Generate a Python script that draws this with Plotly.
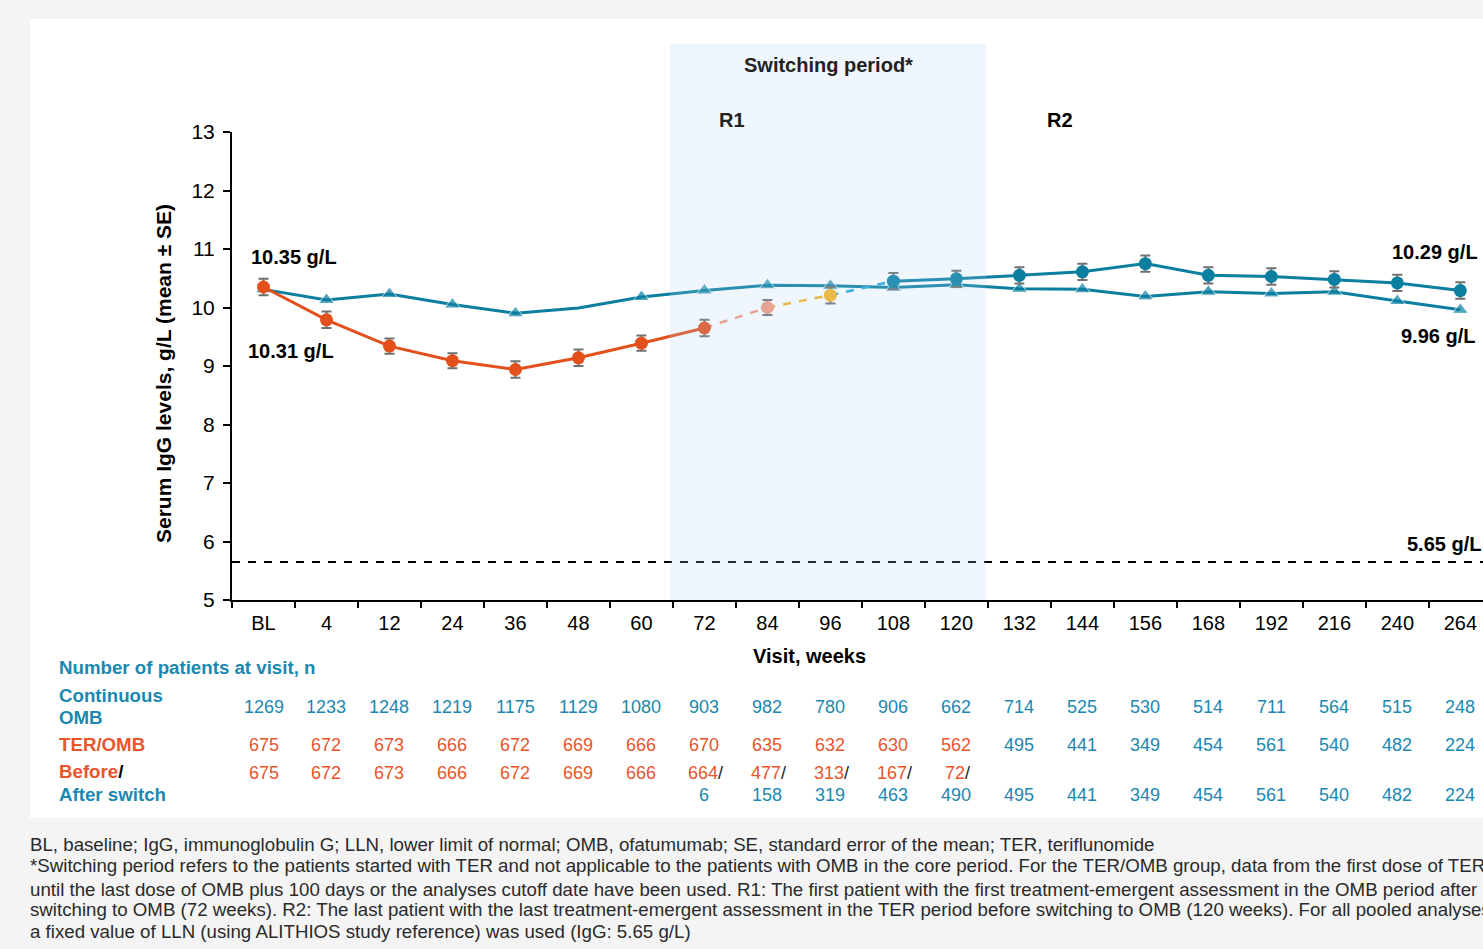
import plotly.graph_objects as go

# ---- data -----------------------------------------------------------------
visits = ["BL", "4", "12", "24", "36", "48", "60", "72", "84", "96", "108", "120",
          "132", "144", "156", "168", "192", "216", "240", "264"]

# Continuous OMB, mean IgG (g/L)
omb_mean = [10.31, 10.13, 10.23, 10.05, 9.90, 9.99, 10.18, 10.29, 10.38, 10.37,
            10.34, 10.39, 10.32, 10.31, 10.19, 10.27, 10.24, 10.27, 10.11, 9.96]

# TER/OMB, before switch (TER period), index 0..7
ter_mean = [10.35, 9.79, 9.34, 9.09, 8.94, 9.14, 9.39, 9.65]
ter_se = [0.14, 0.14, 0.13, 0.13, 0.14, 0.14, 0.13, 0.14]

# TER/OMB during switching period, index 8..9
switch_mean = [10.00, 10.21]
switch_se = [0.13, 0.14]

# TER/OMB after switch (OMB period), index 10..19
after_mean = [10.45, 10.49, 10.55, 10.61, 10.75, 10.55, 10.53, 10.48, 10.42, 10.29]
after_se = [0.14, 0.14, 0.14, 0.14, 0.14, 0.14, 0.14, 0.14, 0.14, 0.14]

lln = 5.65

# Number of patients at visit
n_omb = [1269, 1233, 1248, 1219, 1175, 1129, 1080, 903, 982, 780, 906, 662,
         714, 525, 530, 514, 711, 564, 515, 248]
n_ter_omb = [675, 672, 673, 666, 672, 669, 666, 670, 635, 632, 630, 562,
             495, 441, 349, 454, 561, 540, 482, 224]
n_before = [675, 672, 673, 666, 672, 669, 666, 664, 477, 313, 167, 72]
n_after = [None] * 7 + [6, 158, 319, 463, 490, 495, 441, 349, 454, 561, 540, 482, 224]

# ---- styling --------------------------------------------------------------
FONT = "Liberation Sans, Arial, sans-serif"
TEAL = "#0a7fa0"
ORANGE = "#e4501b"
SALMON = "#f4977a"
YELLOW = "#f7b21e"
SKY = "#1da7db"
NUM_TEAL = "#1a88b0"
NUM_ORANGE = "#e8552a"
ERR = "#707070"

W, H = 1483, 949
L, R, T, B = 232, 1483, 132, 600


def px(x):
    return (x - L) / (R - L)


def py(y):
    return (B - y) / (B - T)


idx = list(range(len(visits)))

fig = go.Figure()

# Continuous OMB
tri_sizes = [14] * len(visits)
tri_sizes[5] = 0
fig.add_trace(go.Scatter(
    x=idx, y=omb_mean, mode="lines+markers",
    line=dict(color=TEAL, width=3),
    marker=dict(symbol="triangle-up", size=tri_sizes, color=TEAL),
    showlegend=False, hoverinfo="skip"))

# Dashed transition segments of the TER/OMB group
seg_colors = [SALMON, YELLOW, SKY]
seg_y = [ter_mean[-1]] + switch_mean + [after_mean[0]]
for k, c in enumerate(seg_colors):
    fig.add_trace(go.Scatter(
        x=[7 + k, 8 + k], y=[seg_y[k], seg_y[k + 1]], mode="lines",
        line=dict(color=c, width=2.5, dash="8px,8px"),
        showlegend=False, hoverinfo="skip"))

# TER/OMB before switch
fig.add_trace(go.Scatter(
    x=idx[:8], y=ter_mean, mode="lines+markers",
    line=dict(color=ORANGE, width=3),
    marker=dict(symbol="circle", size=13, color=ORANGE),
    error_y=dict(type="data", array=ter_se, color=ERR, thickness=2, width=5),
    showlegend=False, hoverinfo="skip"))

# Switching-period points
fig.add_trace(go.Scatter(
    x=idx[8:10], y=switch_mean, mode="markers",
    marker=dict(symbol="circle", size=13, color=[SALMON, YELLOW]),
    error_y=dict(type="data", array=switch_se, color=ERR, thickness=2, width=5),
    showlegend=False, hoverinfo="skip"))

# TER/OMB after switch
fig.add_trace(go.Scatter(
    x=idx[10:], y=after_mean, mode="lines+markers",
    line=dict(color=TEAL, width=3),
    marker=dict(symbol="circle", size=13, color=TEAL),
    error_y=dict(type="data", array=after_se, color=ERR, thickness=2, width=5),
    showlegend=False, hoverinfo="skip"))

# ---- shapes ---------------------------------------------------------------
shapes = [
    # white panel
    dict(type="rect", xref="paper", yref="paper", x0=px(30), x1=px(1500),
         y0=py(818), y1=py(19), fillcolor="white", line_width=0, layer="below"),
    # LLN reference
    dict(type="line", xref="paper", yref="y", x0=0, x1=1, y0=lln, y1=lln,
         line=dict(color="black", width=2, dash="8px,8px")),
    # switching period band
    dict(type="rect", xref="x", yref="paper", x0=6.45, x1=11.47,
         y0=0, y1=py(44), fillcolor="rgba(175,210,245,0.2)", line_width=0,
         layer="above"),
]

# ---- annotations ----------------------------------------------------------
ann = []


def text(x, y, s, size=20, bold=False, color="black", xanchor="center",
         xref="paper", angle=0):
    ann.append(dict(
        x=x if xref != "paper" else px(x), y=py(y), xref=xref, yref="paper",
        text=f"<b>{s}</b>" if bold else s, showarrow=False,
        xanchor=xanchor, yanchor="middle", textangle=angle,
        font=dict(family=FONT, size=size, color=color)))


text(828, 65, "Switching period*", bold=True, color="#222222")
text(732, 120, "R1", bold=True, color="#222222")
text(1060, 120, "R2", bold=True)

text(294, 257, "10.35 g/L", bold=True)
text(291, 351, "10.31 g/L", bold=True)
text(1390, 252, "10.29 g/L", bold=True, xanchor="left")
text(1399, 336, "9.96 g/L", bold=True, xanchor="left")
text(1405, 544, "5.65 g/L", bold=True, xanchor="left")

text(163, 374, "Serum IgG levels, g/L (mean ± SE)", size=21, bold=True, angle=-90)
text(809, 656, "Visit, weeks", bold=True)

# patient-count table
LBL = 18.7
text(57, 667, "Number of patients at visit, n", size=LBL, bold=True,
     color=NUM_TEAL, xanchor="left")
text(57, 695, "Continuous", size=LBL, bold=True, color=NUM_TEAL, xanchor="left")
text(57, 717, "OMB", size=LBL, bold=True, color=NUM_TEAL, xanchor="left")
text(57, 744, "TER/OMB", size=LBL, bold=True, color=NUM_ORANGE, xanchor="left")
text(57, 771, f"<span style='color:{NUM_ORANGE}'>Before</span>/", size=LBL,
     bold=True, color="black", xanchor="left")
text(57, 794, "After switch", size=LBL, bold=True, color=NUM_TEAL, xanchor="left")

for i, n in enumerate(n_omb):
    text(i, 707, str(n), size=18, color=NUM_TEAL, xref="x")
for i, n in enumerate(n_ter_omb):
    text(i, 745, str(n), size=18,
         color=NUM_ORANGE if i < 12 else NUM_TEAL, xref="x")
for i, n in enumerate(n_before):
    if i >= 7:
        text(i + 0.02, 773, f"<span style='color:{NUM_ORANGE}'>{n}</span>/",
             size=18, color="#222222", xref="x")
    else:
        text(i, 773, str(n), size=18, color=NUM_ORANGE, xref="x")
for i, n in enumerate(n_after):
    if n is not None:
        text(i, 795, str(n), size=18, color=NUM_TEAL, xref="x")

# footnotes
notes = [
    (844, "BL, baseline; IgG, immunoglobulin G; LLN, lower limit of normal; OMB, ofatumumab; SE, standard error of the mean; TER, teriflunomide"),
    (865, "*Switching period refers to the patients started with TER and not applicable to the patients with OMB in the core period. For the TER/OMB group, data from the first dose of TER"),
    (889, "until the last dose of OMB plus 100 days or the analyses cutoff date have been used. R1: The first patient with the first treatment-emergent assessment in the OMB period after"),
    (910, "switching to OMB (72 weeks). R2: The last patient with the last treatment-emergent assessment in the TER period before switching to OMB (120 weeks). For all pooled analyses,"),
    (931, "a fixed value of LLN (using ALITHIOS study reference) was used (IgG: 5.65 g/L)"),
]
for y, s in notes:
    text(28, y, s, size=18.7, color="#2a2a2a", xanchor="left")

# ---- layout ---------------------------------------------------------------
fig.update_layout(
    width=W, height=H,
    margin=dict(l=L, r=W - R, t=T, b=H - B, autoexpand=False),
    paper_bgcolor="#f4f4f4", plot_bgcolor="rgba(0,0,0,0)",
    font=dict(family=FONT, size=20, color="black"),
    shapes=shapes, annotations=ann,
    xaxis=dict(
        range=[-0.5, 19.36], tickmode="array", tickvals=idx, ticktext=visits,
        ticks="outside", ticklen=4, tickcolor="rgba(0,0,0,0)",
        minor=dict(tickmode="array", tickvals=[i - 0.5 for i in idx],
                   ticks="outside", ticklen=6, tickwidth=2, tickcolor="black"),
        showline=True, linecolor="black", linewidth=2, showgrid=False,
        zeroline=False, tickfont=dict(size=20), automargin=False),
    yaxis=dict(
        range=[5, 13], dtick=1, ticks="outside", ticklen=7, tickwidth=2,
        tickcolor="black", showline=True, linecolor="black", linewidth=2,
        showgrid=False, zeroline=False, tickfont=dict(size=21),
        ticklabelstandoff=4, automargin=False),
)

fig.write_html("out.html")
